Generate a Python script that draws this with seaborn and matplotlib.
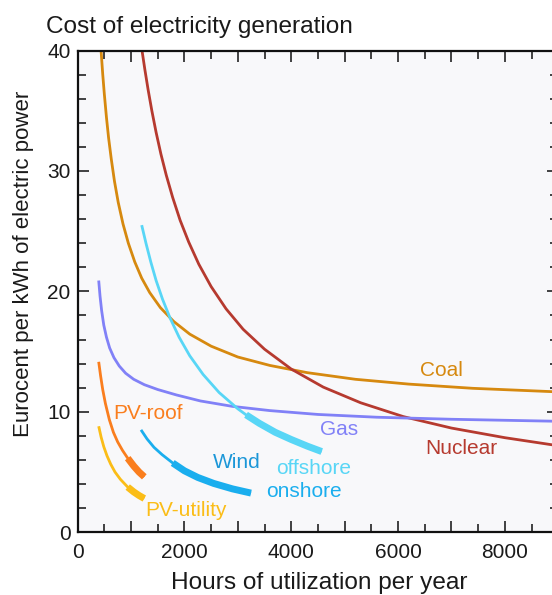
import matplotlib
matplotlib.use("Agg")
import matplotlib.pyplot as plt
from matplotlib.ticker import MultipleLocator, FuncFormatter
import pandas as pd
import seaborn as sns

# Cost of electricity (Eurocent/kWh) against full-load hours per year
coal_hours = [440, 470, 500, 540, 580, 630, 690, 760, 850, 950, 1070, 1200, 1350, 1550,
              1800, 2100, 2500, 3000, 3600, 4300, 5200, 6200, 7400, 8900]
coal_cost = [39.95, 38.05, 36.4, 34.45, 32.75, 31.0, 29.15, 27.4, 25.6, 24.0, 22.45, 21.1,
             19.9, 18.65, 17.5, 16.45, 15.45, 14.55, 13.85, 13.25, 12.7, 12.3, 11.95, 11.67]

nuclear_hours = [1206, 1260, 1320, 1390, 1470, 1560, 1660, 1780, 1920, 2080, 2270, 2500,
                 2780, 3100, 3500, 4000, 4600, 5300, 6100, 7000, 8000, 8900]
nuclear_cost = [40.0, 38.4, 36.75, 35.0, 33.2, 31.4, 29.65, 27.8, 25.9, 24.1, 22.25, 20.4,
                18.55, 16.85, 15.2, 13.55, 12.05, 10.75, 9.6, 8.65, 7.85, 7.25]

gas_hours = [395, 420, 450, 490, 540, 600, 680, 780, 900, 1050, 1250, 1500, 1850, 2300,
             2900, 3600, 4500, 5600, 7000, 8900]
gas_cost = [20.9, 19.6, 18.4, 17.2, 16.2, 15.3, 14.5, 13.8, 13.2, 12.7, 12.25, 11.85, 11.4,
            10.9, 10.45, 10.1, 9.78, 9.55, 9.38, 9.22]

offshore_hours = [1200, 1280, 1370, 1470, 1590, 1730, 1900, 2100, 2350, 2650, 3000, 3154,
                  3400, 3700, 4000, 4300, 4571]
offshore_cost = [25.5, 24.0, 22.45, 20.9, 19.35, 17.8, 16.2, 14.65, 13.1, 11.6, 10.25, 9.75,
                 9.05, 8.3, 7.7, 7.15, 6.7]

onshore_hours = [1187, 1300, 1430, 1580, 1781, 2000, 2250, 2550, 2900, 3247]
onshore_cost = [8.5, 7.75, 7.05, 6.45, 5.75, 5.1, 4.55, 4.05, 3.6, 3.25]

pv_roof_hours = [395, 430, 470, 520, 594, 670, 750, 840, 938, 1050, 1150, 1249]
pv_roof_cost = [14.15, 13.0, 11.85, 10.7, 9.35, 8.3, 7.5, 6.8, 6.15, 5.5, 5.0, 4.6]

pv_utility_hours = [395, 440, 490, 550, 620, 700, 800, 938, 1050, 1150, 1249]
pv_utility_cost = [8.8, 7.9, 7.1, 6.35, 5.65, 5.0, 4.4, 3.75, 3.35, 3.05, 2.8]

sources = ["Coal", "Nuclear", "Gas", "offshore", "onshore", "PV-roof", "PV-utility"]
# start of the typical utilization range (drawn as the thick part of a curve)
typical_from = [None, None, None, 3154, 1781, 938, 938]

colors = {
    "Coal": "#d6890f",
    "Nuclear": "#b63a2f",
    "Gas": "#8181f7",
    "offshore": "#58d6f6",
    "onshore": "#1aaeee",
    "PV-roof": "#fa7e1e",
    "PV-utility": "#fbbd17",
}

series = {
    "Coal": (coal_hours, coal_cost),
    "Nuclear": (nuclear_hours, nuclear_cost),
    "Gas": (gas_hours, gas_cost),
    "offshore": (offshore_hours, offshore_cost),
    "onshore": (onshore_hours, onshore_cost),
    "PV-roof": (pv_roof_hours, pv_roof_cost),
    "PV-utility": (pv_utility_hours, pv_utility_cost),
}

rows = []
for name, start in zip(sources, typical_from):
    h, c = series[name]
    for hv, cv in zip(h, c):
        rows.append({"hours": hv, "cost": cv, "source": name,
                     "typical": start is not None and hv >= start})
df = pd.DataFrame(rows)

sns.set_style("ticks")
plt.rcParams["font.family"] = ["Liberation Sans", "DejaVu Sans"]
plt.rcParams["text.color"] = "#1a1a1a"

fig = plt.figure(figsize=(5.52, 5.95), dpi=100)
fig.patch.set_facecolor("white")
ax = fig.add_axes([0.1406, 0.1055, 0.8707, 0.8096])
ax.set_facecolor("#f8f8fa")

sns.lineplot(data=df, x="hours", y="cost", hue="source", palette=colors,
             estimator=None, sort=True, linewidth=2.0, legend=False, ax=ax,
             solid_capstyle="butt", solid_joinstyle="round")
sns.lineplot(data=df[df["typical"]], x="hours", y="cost", hue="source",
             palette=colors, estimator=None, sort=True, linewidth=5.0,
             legend=False, ax=ax, solid_capstyle="butt", solid_joinstyle="round")

ax.set_xlim(0, 9000)
ax.set_ylim(0, 40)
ax.set_xlabel("")
ax.set_ylabel("")

ax.xaxis.set_major_locator(MultipleLocator(1000))
ax.xaxis.set_minor_locator(MultipleLocator(500))
ax.xaxis.set_major_formatter(FuncFormatter(lambda v, _: f"{int(v)}" if v % 2000 == 0 else ""))
ax.yaxis.set_major_locator(MultipleLocator(10))
ax.yaxis.set_minor_locator(MultipleLocator(2))

ax.tick_params(which="both", direction="in", top=True, right=True,
               width=1.2, color="#222222", labelsize=15, labelcolor="#1a1a1a")
ax.tick_params(which="major", length=8)
ax.tick_params(which="minor", length=6)
ax.tick_params(axis="x", which="major", pad=8)
ax.tick_params(axis="y", which="major", pad=5)
for sp in ax.spines.values():
    sp.set_linewidth(1.6)
    sp.set_color("#111111")
    sp.set_visible(True)

# curve labels
labels = [
    ("Coal", 6805, 13.46, colors["Coal"]),
    ("Nuclear", 7193, 6.96, colors["Nuclear"]),
    ("Gas", 4895, 8.56, colors["Gas"]),
    ("offshore", 4418, 5.33, colors["offshore"]),
    ("onshore", 4245, 3.36, colors["onshore"]),
    ("Wind", 2972, 5.77, "#1c97d8"),
    ("PV-roof", 1313, 9.87, colors["PV-roof"]),
    ("PV-utility", 2039, 1.84, colors["PV-utility"]),
]
for text, x, y, col in labels:
    ax.text(x, y, text, color=col, fontsize=15, ha="center", va="center")

fig.text(46 / 552, 1 - 33.5 / 595, "Cost of electricity generation",
         fontsize=17.6, ha="left", va="baseline")
fig.text(319.5 / 552, 1 - 589 / 595, "Hours of utilization per year",
         fontsize=17.6, ha="center", va="baseline")
fig.text(24 / 552, 1 - 264 / 595, "Eurocent per kWh of electric power",
         fontsize=16, ha="center", va="center", rotation=90)

fig.savefig("out.png", dpi=100)
